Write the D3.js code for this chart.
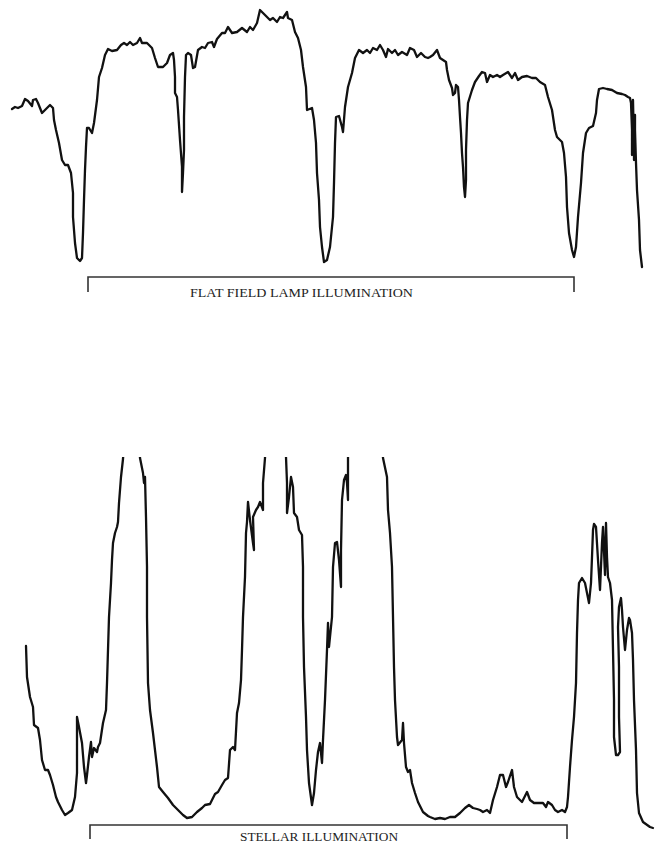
<!DOCTYPE html>
<html>
<head>
<meta charset="utf-8">
<script src="https://cdn.jsdelivr.net/npm/d3@7"></script>
<style>
  html, body { margin: 0; padding: 0; background: #fff; }
  svg { display: block; }
</style>
</head>
<body>
<svg id="chart" width="658" height="843"></svg>
<script>
// ---- Data: scan position (arbitrary units) and pen deflection (arbitrary units) ----
const flatPos = [12,15,18,22,25,28,32,33,36,38,42,45,50,53,54,56,59,62,65,68,71,73,73,75,77,80,82,83,84,85,86,87,89,92,94,97,99,102,105,108,112,117,121,124,127,130,133,137,140,142,147,152,155,158,163,167,170,173,174,175,175,177,178,180,182,182,183,184,184,185,186,188,191,193,195,198,202,205,208,212,214,217,222,225,228,232,237,242,247,250,253,257,260,263,267,270,273,277,280,283,287,288,292,295,298,301,303,306,307,312,314,316,317,319,320,322,324,327,330,333,334,335,336,339,342,343,345,348,352,355,359,363,367,370,373,377,380,383,386,388,392,395,398,402,407,410,414,417,421,425,428,430,433,437,440,443,446,447,449,452,453,455,456,458,459,460,461,462,463,464,465,466,466,467,468,472,475,479,482,485,487,490,493,497,500,503,508,512,515,518,522,527,532,536,540,545,548,552,555,557,562,564,566,567,569,572,574,576,578,581,583,586,589,593,596,597,599,603,607,612,617,622,625,628,630,631,632,632,633,633,634,634,635,635,636,637,639,640,642];
const flatVal = [171,173,172,174,181,179,174,180,181,177,167,170,175,172,160,150,137,120,115,115,107,87,63,37,22,19,22,47,80,110,133,152,152,147,157,180,203,212,225,231,229,230,235,237,235,238,235,237,242,237,237,232,222,213,213,217,225,227,220,203,187,183,170,140,113,88,107,130,163,203,225,227,225,212,213,230,233,232,237,238,233,241,247,247,253,247,248,252,248,253,250,257,270,267,263,260,262,258,263,262,268,262,260,248,242,230,213,193,170,172,160,137,107,80,53,33,18,20,33,63,97,137,163,164,153,148,173,193,207,222,230,227,230,227,232,230,235,230,223,231,227,230,225,228,225,232,230,223,227,223,222,223,225,230,222,220,218,210,200,192,185,187,195,193,180,163,147,127,113,93,83,100,130,160,177,190,198,204,208,207,198,205,203,205,203,205,208,202,207,200,203,204,202,202,198,195,183,170,150,143,138,127,103,73,47,30,23,33,63,97,127,147,152,154,167,180,191,192,191,190,187,186,185,183,182,177,150,125,170,180,130,120,165,150,117,90,60,30,13,5];

const stellarPos = [26,27,30,33,34,38,40,42,45,48,50,53,56,58,62,65,68,72,75,77,77,79,82,84,86,87,89,91,92,94,97,98,100,103,106,107,108,109,111,112,113,115,117,118,119,121,123,125,138,140,143,144,145,146,147,147,148,150,153,157,159,163,168,173,178,183,187,192,197,202,205,210,215,218,222,225,228,230,233,235,237,239,241,242,243,245,246,247,248,250,253,254,253,256,258,260,263,263,265,266,285,286,287,287,289,291,293,294,297,299,302,303,303,304,306,307,309,312,314,316,318,320,322,323,325,327,328,329,332,333,335,337,339,341,341,342,344,346,347,348,348,349,382,383,387,388,390,392,393,394,395,397,398,402,403,404,406,408,410,412,415,418,423,428,430,435,440,445,450,455,460,465,469,473,477,480,483,487,490,493,497,500,503,506,508,512,514,517,522,527,530,534,538,543,546,548,552,555,558,562,565,567,568,570,572,574,576,577,578,579,582,585,587,589,591,592,593,594,596,598,600,602,603,605,606,607,608,610,612,613,614,614,616,618,620,619,619,618,619,621,622,623,625,627,629,630,632,633,634,636,637,639,643,650,653];
const stellarVal = [184,153,133,123,105,102,90,70,60,60,55,45,33,28,20,15,17,20,33,57,113,103,87,63,47,55,73,88,73,82,78,83,87,107,120,147,180,213,247,270,287,297,303,308,327,353,371,400,400,372,357,347,353,313,263,213,147,120,97,63,43,38,32,25,20,15,12,13,18,22,25,26,36,38,45,50,52,80,83,80,117,127,150,180,213,253,297,308,328,310,287,280,313,320,323,328,320,347,372,400,400,373,347,317,333,353,343,317,313,300,295,263,213,163,113,80,47,25,37,60,78,87,67,90,130,180,207,183,213,263,287,288,270,243,280,330,350,355,347,330,372,400,400,372,353,320,297,263,213,163,130,93,85,90,107,87,63,58,60,47,37,28,18,14,13,11,12,11,13,13,17,22,25,22,21,20,18,20,17,30,43,55,55,43,48,60,43,33,28,38,30,27,27,27,23,28,25,20,18,20,18,23,33,63,90,113,147,197,230,247,252,247,237,227,247,273,300,306,303,270,240,287,303,255,307,273,253,247,230,180,130,93,75,75,78,113,163,203,223,232,220,203,180,200,212,210,197,170,130,80,37,17,8,3,2];

const labels = ["FLAT FIELD LAMP ILLUMINATION", "STELLAR ILLUMINATION"];
const bracketStart = [88, 90];
const bracketEnd = [574, 567];
const labelStart = [190, 240];
const labelEnd = [413, 398];

// ---- Layout ----
const svg = d3.select("#chart");
const x = d3.scaleLinear().domain([0, 658]).range([0, 658]);

const panels = [
  { pos: flatPos, val: flatVal, y: d3.scaleLinear().domain([0, 270]).range([280, 10]),
    clipTop: 0, clipBottom: 285, bracketY: 277, tickLen: 15, textY: 297 },
  { pos: stellarPos, val: stellarVal, y: d3.scaleLinear().domain([0, 373]).range([830, 457]),
    clipTop: 457, clipBottom: 832, bracketY: 825, tickLen: 14, textY: 841 }
];

panels.forEach((p, i) => {
  const pts = p.pos.map((d, k) => [d, p.val[k]]);
  const clipId = "clip" + i;
  svg.append("clipPath").attr("id", clipId)
    .append("rect").attr("x", 0).attr("y", p.clipTop)
    .attr("width", 658).attr("height", p.clipBottom - p.clipTop);

  const line = d3.line().x(d => x(d[0])).y(d => p.y(d[1])).curve(d3.curveLinear);
  svg.append("path")
    .datum(pts)
    .attr("clip-path", `url(#${clipId})`)
    .attr("d", line)
    .attr("fill", "none")
    .attr("stroke", "#111")
    .attr("stroke-width", 2.3)
    .attr("stroke-linejoin", "round")
    .attr("stroke-linecap", "round");

  // bracket
  const x0 = x(bracketStart[i]), x1 = x(bracketEnd[i]), by = p.bracketY;
  svg.append("path")
    .attr("d", `M${x0},${by + p.tickLen}V${by}H${x1}V${by + p.tickLen}`)
    .attr("fill", "none")
    .attr("stroke", "#333")
    .attr("stroke-width", 1.6);

  svg.append("text")
    .attr("x", x(labelStart[i]))
    .attr("y", p.textY)
    .attr("textLength", x(labelEnd[i]) - x(labelStart[i]))
    .attr("lengthAdjust", "spacingAndGlyphs")
    .attr("font-family", "'Liberation Serif', 'DejaVu Serif', serif")
    .attr("font-size", 12)
    .attr("fill", "#222")
    .text(labels[i]);
});
</script>
</body>
</html>
